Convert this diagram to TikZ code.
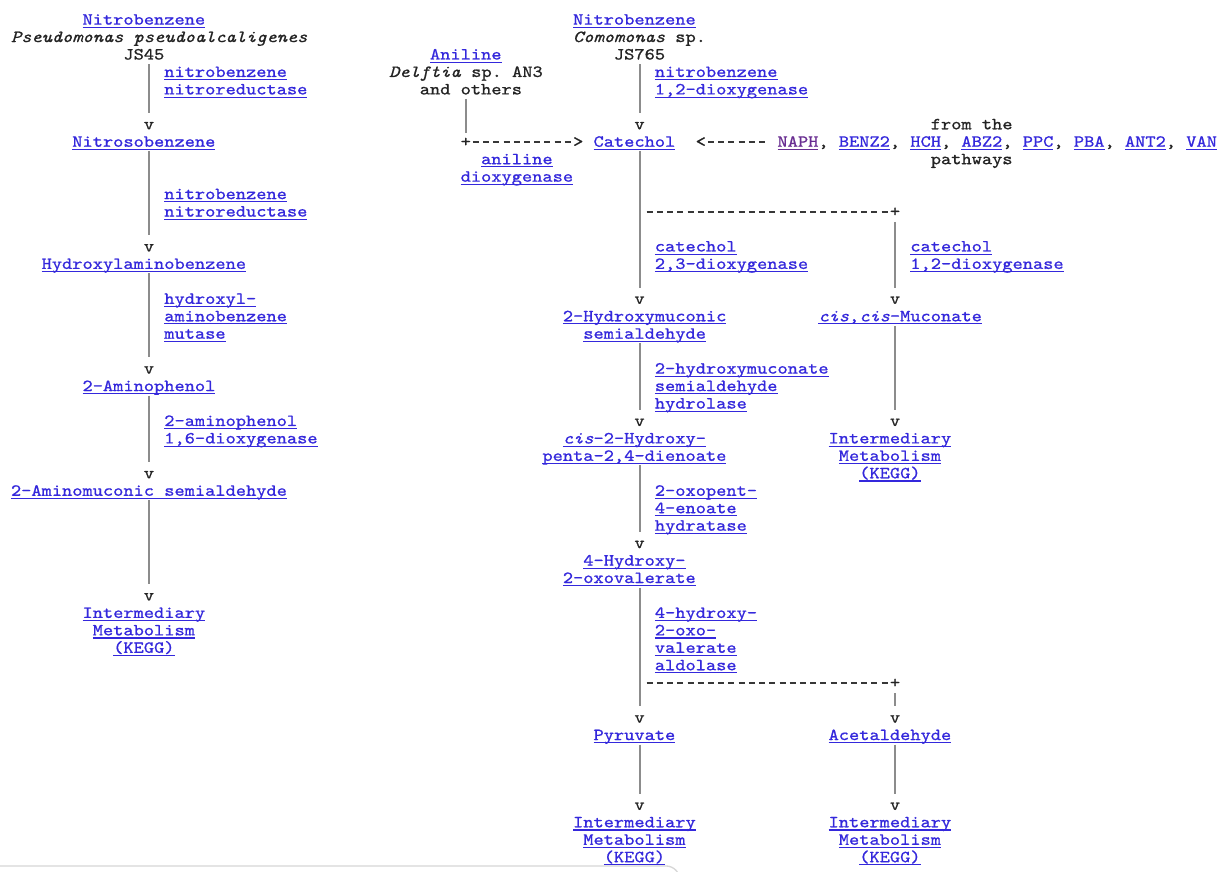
\documentclass[tikz,border=0pt]{standalone}
\usepackage{fontspec}
\setmonofont{lmmono10-regular.otf}[FakeStretch=1.15, FakeBold=0.9, ItalicFont=lmmono10-italic.otf]
\definecolor{linkc}{RGB}{52,40,220}
\definecolor{visc}{RGB}{105,45,145}
\definecolor{ink}{RGB}{35,35,35}
\definecolor{linegray}{RGB}{140,140,140}
\definecolor{dashgray}{RGB}{55,55,55}
\definecolor{edgegray}{RGB}{215,215,215}
\newlength\cw \setlength\cw{7.665pt}
\newcommand\lbfont{\ttfamily\fontsize{12.695pt}{13.0875pt}\selectfont\frenchspacing}
\newcommand\st{\rule{0pt}{11.25pt}}
\newcommand\sd{\rule[-3.4pt]{0pt}{3.4pt}}
\newcommand\ind[1]{\hspace*{#1\cw}}
\newcommand\ulbox[1]{\setbox0=\hbox{#1}\rlap{\rule[-2.4pt]{\wd0}{0.8pt}}\box0}
\newcommand\lk[1]{{\color{linkc}\ulbox{#1}}}
\newcommand\lkv[1]{{\color{visc}\ulbox{#1}}}
\begin{document}
\begin{tikzpicture}[x=7.665pt, y=-13.0875pt, font=\lbfont,
  every node/.style={inner sep=0pt, outer sep=0pt, text=ink},
  lbl/.style={anchor=north west, align=left},
  mk/.style={anchor=base west, text height=6.9pt, text depth=0pt},
  conn/.style={draw=linegray, line width=1.5pt, shorten >=5.3pt},
  dconn/.style={draw=dashgray, line width=1pt, dash pattern=on 4.5pt off 3.165pt, dash phase=6.165pt}]
\useasboundingbox[fill=white] (-1.0763,-0.5501) rectangle (118.297,49.421);

% ---------- left pathway ----------
\node[lbl] (nb1) at (0,0) {\st\ind{7}\lk{Nitrobenzene}\\ \textit{Pseudomonas pseudoalcaligenes}\\ \ind{11}JS45\sd};
\node[lbl] (e1) at (15,3) {\st\lk{nitrobenzene}\\ \lk{nitroreductase}\sd};
\node[mk] (v1) at (13,6.8596) {v};
\node[lbl] (nso) at (6,7) {\st\lk{Nitrosobenzene}\sd};
\node[lbl] (e2) at (15,10) {\st\lk{nitrobenzene}\\ \lk{nitroreductase}\sd};
\node[mk] (v2) at (13,13.8596) {v};
\node[lbl] (hab) at (3,14) {\st\lk{Hydroxylaminobenzene}\sd};
\node[lbl] (e3) at (15,16) {\st\lk{hydroxyl-}\\ \lk{aminobenzene}\\ \lk{mutase}\sd};
\node[mk] (v3) at (13,20.8596) {v};
\node[lbl] (ap) at (7,21) {\st\lk{2-Aminophenol}\sd};
\node[lbl] (e4) at (15,23) {\st\lk{2-aminophenol}\\ \lk{1,6-dioxygenase}\sd};
\node[mk] (v4) at (13,26.8596) {v};
\node[lbl] (ams) at (0,27) {\st\lk{2-Aminomuconic semialdehyde}\sd};
\node[mk] (v5) at (13,33.8596) {v};
\node[lbl] (im1) at (7,34) {\st\lk{Intermediary}\\ \ind{1}\lk{Metabolism}\\ \ind{3}\lk{(KEGG)}\sd};

\draw[conn] (nb1.south -| v1) -- (v1.north);
\draw[conn] (nso.south -| v2) -- (v2.north);
\draw[conn] (hab.south -| v3) -- (v3.north);
\draw[conn] (ap.south -| v4) -- (v4.north);
\draw[conn] (ams.south -| v5) -- (v5.north);

% ---------- aniline ----------
\node[lbl] (anl) at (37,2) {\st\ind{4}\lk{Aniline}\\ \textit{Delftia} sp. AN3\\ \ind{3}and others\sd};
\node[mk] (plus1) at (44,7.8596) {+};
\node[mk] (gt1) at (55,7.8596) {>};
\node[lbl] (ad) at (44,8) {\st\ind{2}\lk{aniline}\\ \lk{dioxygenase}\sd};
\draw[conn, shorten >=3.4pt] (anl.south -| plus1) -- (plus1.north);
\draw[dconn] (plus1.east) -- (gt1.west);

% ---------- main pathway ----------
\node[lbl] (nb2) at (55,0) {\st\lk{Nitrobenzene}\\ \textit{Comomonas} sp.\\ \ind{4}JS765\sd};
\node[lbl] (e5) at (63,3) {\st\lk{nitrobenzene}\\ \lk{1,2-dioxygenase}\sd};
\node[mk] (v6) at (61,6.8596) {v};
\node[lbl] (cat) at (57,7) {\st\lk{Catechol}\sd};
\node[mk] (lt) at (67,7.8596) {<};
\node[lbl] (lst) at (75,6) {\st\ind{15}from the\\ \lkv{NAPH}, \lk{BENZ2}, \lk{HCH}, \lk{ABZ2}, \lk{PPC}, \lk{PBA}, \lk{ANT2}, \lk{VAN}\\ \ind{15}pathways\sd};
\draw[conn] (nb2.south -| v6) -- (v6.north);
\draw[dconn] (lt.east) -- ([xshift=-7.665pt]lst.west |- lt.east);

\coordinate (br1) at (62,11);
\node[mk] (plus2) at (86,11.8596) {+};
\node[lbl] (e6) at (63,13) {\st\lk{catechol}\\ \lk{2,3-dioxygenase}\sd};
\node[lbl] (e7) at (88,13) {\st\lk{catechol}\\ \lk{1,2-dioxygenase}\sd};
\node[mk] (v7) at (61,16.8596) {v};
\node[mk] (v8) at (86,16.8596) {v};
\draw[conn] (cat.south -| v7) -- (v7.north);
\draw[dconn] (br1 |- plus2.west) -- (plus2.west);
\draw[conn, shorten <=4pt] (plus2.south) -- (v8.north);

\node[lbl] (hms) at (54,17) {\st\lk{2-Hydroxymuconic}\\ \ind{2}\lk{semialdehyde}\sd};
\node[lbl] (muc) at (79,17) {\st\lk{\textit{cis},\textit{cis}-Muconate}\sd};
\node[lbl] (e8) at (63,20) {\st\lk{2-hydroxymuconate}\\ \lk{semialdehyde}\\ \lk{hydrolase}\sd};
\node[mk] (v9) at (61,23.8596) {v};
\node[mk] (v10) at (86,23.8596) {v};
\draw[conn] (hms.south -| v9) -- (v9.north);
\draw[conn] (muc.south -| v10) -- (v10.north);

\node[lbl] (hpd) at (52,24) {\st\ind{2}\lk{\textit{cis}-2-Hydroxy-}\\ \lk{penta-2,4-dienoate}\sd};
\node[lbl] (im2) at (80,24) {\st\lk{Intermediary}\\ \ind{1}\lk{Metabolism}\\ \ind{3}\lk{(KEGG)}\sd};
\node[lbl] (e9) at (63,27) {\st\lk{2-oxopent-}\\ \lk{4-enoate}\\ \lk{hydratase}\sd};
\node[mk] (v11) at (61,30.8596) {v};
\draw[conn] (hpd.south -| v11) -- (v11.north);

\node[lbl] (hov) at (54,31) {\st\ind{2}\lk{4-Hydroxy-}\\ \lk{2-oxovalerate}\sd};
\node[lbl] (e10) at (63,34) {\st\lk{4-hydroxy-}\\ \lk{2-oxo-}\\ \lk{valerate}\\ \lk{aldolase}\sd};
\coordinate (br2) at (62,38);
\node[mk] (plus3) at (86,38.8596) {+};
\node[mk] (v12) at (61,40.8596) {v};
\node[mk] (v13) at (86,40.8596) {v};
\draw[conn] (hov.south -| v12) -- (v12.north);
\draw[dconn] (br2 |- plus3.west) -- (plus3.west);
\draw[conn, shorten <=4pt] (plus3.south) -- (v13.north);

\node[lbl] (pyr) at (57,41) {\st\lk{Pyruvate}\sd};
\node[lbl] (ace) at (80,41) {\st\lk{Acetaldehyde}\sd};
\node[mk] (v14) at (61,45.8596) {v};
\node[mk] (v15) at (86,45.8596) {v};
\draw[conn] (pyr.south -| v14) -- (v14.north);
\draw[conn] (ace.south -| v15) -- (v15.north);
\node[lbl] (im3) at (55,46) {\st\lk{Intermediary}\\ \ind{1}\lk{Metabolism}\\ \ind{3}\lk{(KEGG)}\sd};
\node[lbl] (im4) at (80,46) {\st\lk{Intermediary}\\ \ind{1}\lk{Metabolism}\\ \ind{3}\lk{(KEGG)}\sd};

% window edge at the bottom of the screenshot
\draw[edgegray, line width=1pt, rounded corners=4pt] (-1.0763,49.08) -- (64.7,49.08) -- (65.2,49.421);
\end{tikzpicture}
\end{document}
